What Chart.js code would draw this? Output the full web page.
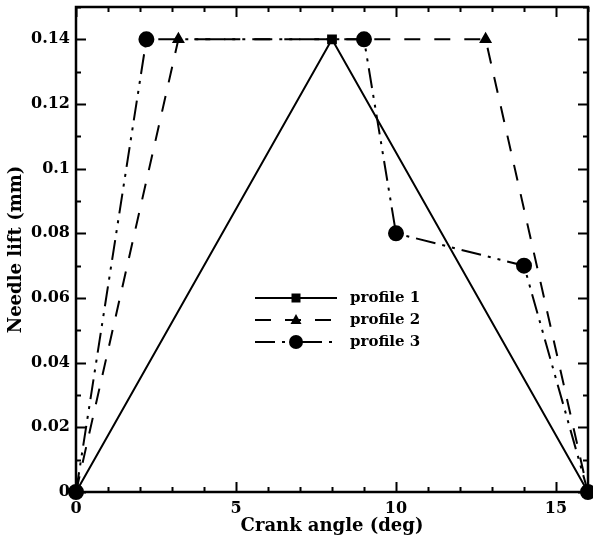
<!DOCTYPE html>
<html>
<head>
<meta charset="utf-8">
<script src="https://cdn.jsdelivr.net/npm/chart.js@4"></script>
<style>
  html, body { margin: 0; padding: 0; background: #fff; }
  #wrap { width: 593px; height: 543px; }
</style>
</head>
<body>
<div id="wrap"><canvas id="chart" width="593" height="543"></canvas></div>
<script>
// profile data
const profile1X = [0, 8, 16];
const profile1Y = [0, 0.14, 0];
const profile2X = [0, 3.2, 12.8, 16];
const profile2Y = [0, 0.14, 0.14, 0];
const profile3X = [0, 2.2, 9, 10, 14, 16];
const profile3Y = [0, 0.14, 0.14, 0.08, 0.07, 0];
const seriesNames = ["profile 1", "profile 2", "profile 3"];
const xTicks = [0, 5, 10, 15];
const yTicks = [0, 0.02, 0.04, 0.06, 0.08, 0.1, 0.12, 0.14];

const FONT = "'DejaVu Serif', serif";

const toPts = (xs, ys) => xs.map((x, i) => ({ x: x, y: ys[i] }));

// inward ticks on all four sides + frame + legend inside the plot
const frameTicks = {
    id: "frameTicks",
    afterDatasetsDraw(chart) {
        const ctx = chart.ctx;
        const a = chart.chartArea;
        const xs = chart.scales.x, ys = chart.scales.y;
        ctx.save();
        ctx.strokeStyle = "#000";
        ctx.lineWidth = 2;
        // x ticks, minor every 1, major every 5
        for (let v = 0; v <= 16; v++) {
            const px = Math.round(xs.getPixelForValue(v)) + 0.5;
            const len = v % 5 === 0 ? 10 : 5;
            ctx.beginPath();
            ctx.moveTo(px, a.bottom); ctx.lineTo(px, a.bottom - len);
            ctx.moveTo(px, a.top); ctx.lineTo(px, a.top + len);
            ctx.stroke();
        }
        // y ticks, minor every 0.01, major every 0.02
        for (let i = 0; i <= 15; i++) {
            const py = Math.round(ys.getPixelForValue(i / 100)) + 0.5;
            const len = i % 2 === 0 ? 10 : 5;
            ctx.beginPath();
            ctx.moveTo(a.left, py); ctx.lineTo(a.left + len, py);
            ctx.moveTo(a.right, py); ctx.lineTo(a.right - len, py);
            ctx.stroke();
        }
        ctx.lineWidth = 2.5;
        ctx.strokeRect(a.left, a.top, a.right - a.left, a.bottom - a.top);

        // legend
        const lx0 = 255, lx1 = 337, ly0 = 298, dy = 22;
        chart.data.datasets.forEach((ds, i) => {
            const y = ly0 + i * dy;
            ctx.lineWidth = 2;
            ctx.setLineDash(ds.borderDash || []);
            ctx.beginPath();
            ctx.moveTo(lx0, y); ctx.lineTo(lx1, y);
            ctx.stroke();
            ctx.setLineDash([]);
            ctx.fillStyle = "#000";
            const mx = (lx0 + lx1) / 2;
            ctx.beginPath();
            if (ds.pointStyle === "rect") {
                ctx.rect(mx - 4.5, y - 4.5, 9, 9);
            } else if (ds.pointStyle === "triangle") {
                ctx.moveTo(mx, y - 6); ctx.lineTo(mx + 5.5, y + 4); ctx.lineTo(mx - 5.5, y + 4); ctx.closePath();
            } else {
                ctx.arc(mx, y, 7, 0, Math.PI * 2);
            }
            ctx.fill();
            ctx.font = "bold 15px " + FONT;
            ctx.textBaseline = "middle";
            ctx.fillText(ds.label, 350, y);
        });
        ctx.restore();
    }
};

new Chart(document.getElementById("chart"), {
    type: "scatter",
    data: {
        datasets: [
            {
                label: seriesNames[0],
                data: toPts(profile1X, profile1Y),
                showLine: true,
                borderColor: "#000",
                backgroundColor: "#000",
                borderWidth: 2,
                pointStyle: "rect",
                pointRadius: 5.5,
                clip: false
            },
            {
                label: seriesNames[1],
                data: toPts(profile2X, profile2Y),
                showLine: true,
                borderColor: "#000",
                backgroundColor: "#000",
                borderWidth: 2,
                borderDash: [16, 14],
                pointStyle: "triangle",
                pointRadius: 5.5,
                clip: false
            },
            {
                label: seriesNames[2],
                data: toPts(profile3X, profile3Y),
                showLine: true,
                borderColor: "#000",
                backgroundColor: "#000",
                borderWidth: 2,
                borderDash: [20, 7, 3, 7, 3, 7],
                pointStyle: "circle",
                pointRadius: 7,
                clip: false
            }
        ]
    },
    options: {
        responsive: false,
        animation: false,
        layout: { autoPadding: false, padding: { top: 7, right: 5, left: 6, bottom: 0 } },
        plugins: {
            legend: { display: false },
            tooltip: { enabled: false }
        },
        scales: {
            x: {
                type: "linear",
                min: 0, max: 16,
                grid: { display: false, drawTicks: false },
                border: { display: false },
                afterBuildTicks: (s) => { s.ticks = xTicks.map(v => ({ value: v })); },
                afterFit: (s) => { s.height = 51; s.paddingLeft = 0; s.paddingRight = 0; },
                ticks: {
                    color: "#000",
                    padding: 7,
                    maxRotation: 0,
                    font: { family: FONT, size: 16, weight: "bold" },
                    callback: (v) => String(v)
                },
                title: {
                    display: true,
                    text: "Crank angle (deg)",
                    color: "#000",
                    padding: { top: -6, bottom: 6 },
                    font: { family: FONT, size: 18, weight: "bold" }
                }
            },
            y: {
                type: "linear",
                min: 0, max: 0.15,
                grid: { display: false, drawTicks: false },
                border: { display: false },
                afterBuildTicks: (s) => { s.ticks = yTicks.map(v => ({ value: v })); },
                afterFit: (s) => { s.width = 70; s.paddingTop = 0; s.paddingBottom = 0; },
                ticks: {
                    color: "#000",
                    padding: 6,
                    font: { family: FONT, size: 16, weight: "bold" },
                    callback: (v) => String(+v.toFixed(2))
                },
                title: {
                    display: true,
                    text: "Needle lift (mm)",
                    color: "#000",
                    padding: { top: 0, bottom: 0 },
                    font: { family: FONT, size: 18, weight: "bold" }
                }
            }
        }
    },
    plugins: [frameTicks]
});
</script>
</body>
</html>
